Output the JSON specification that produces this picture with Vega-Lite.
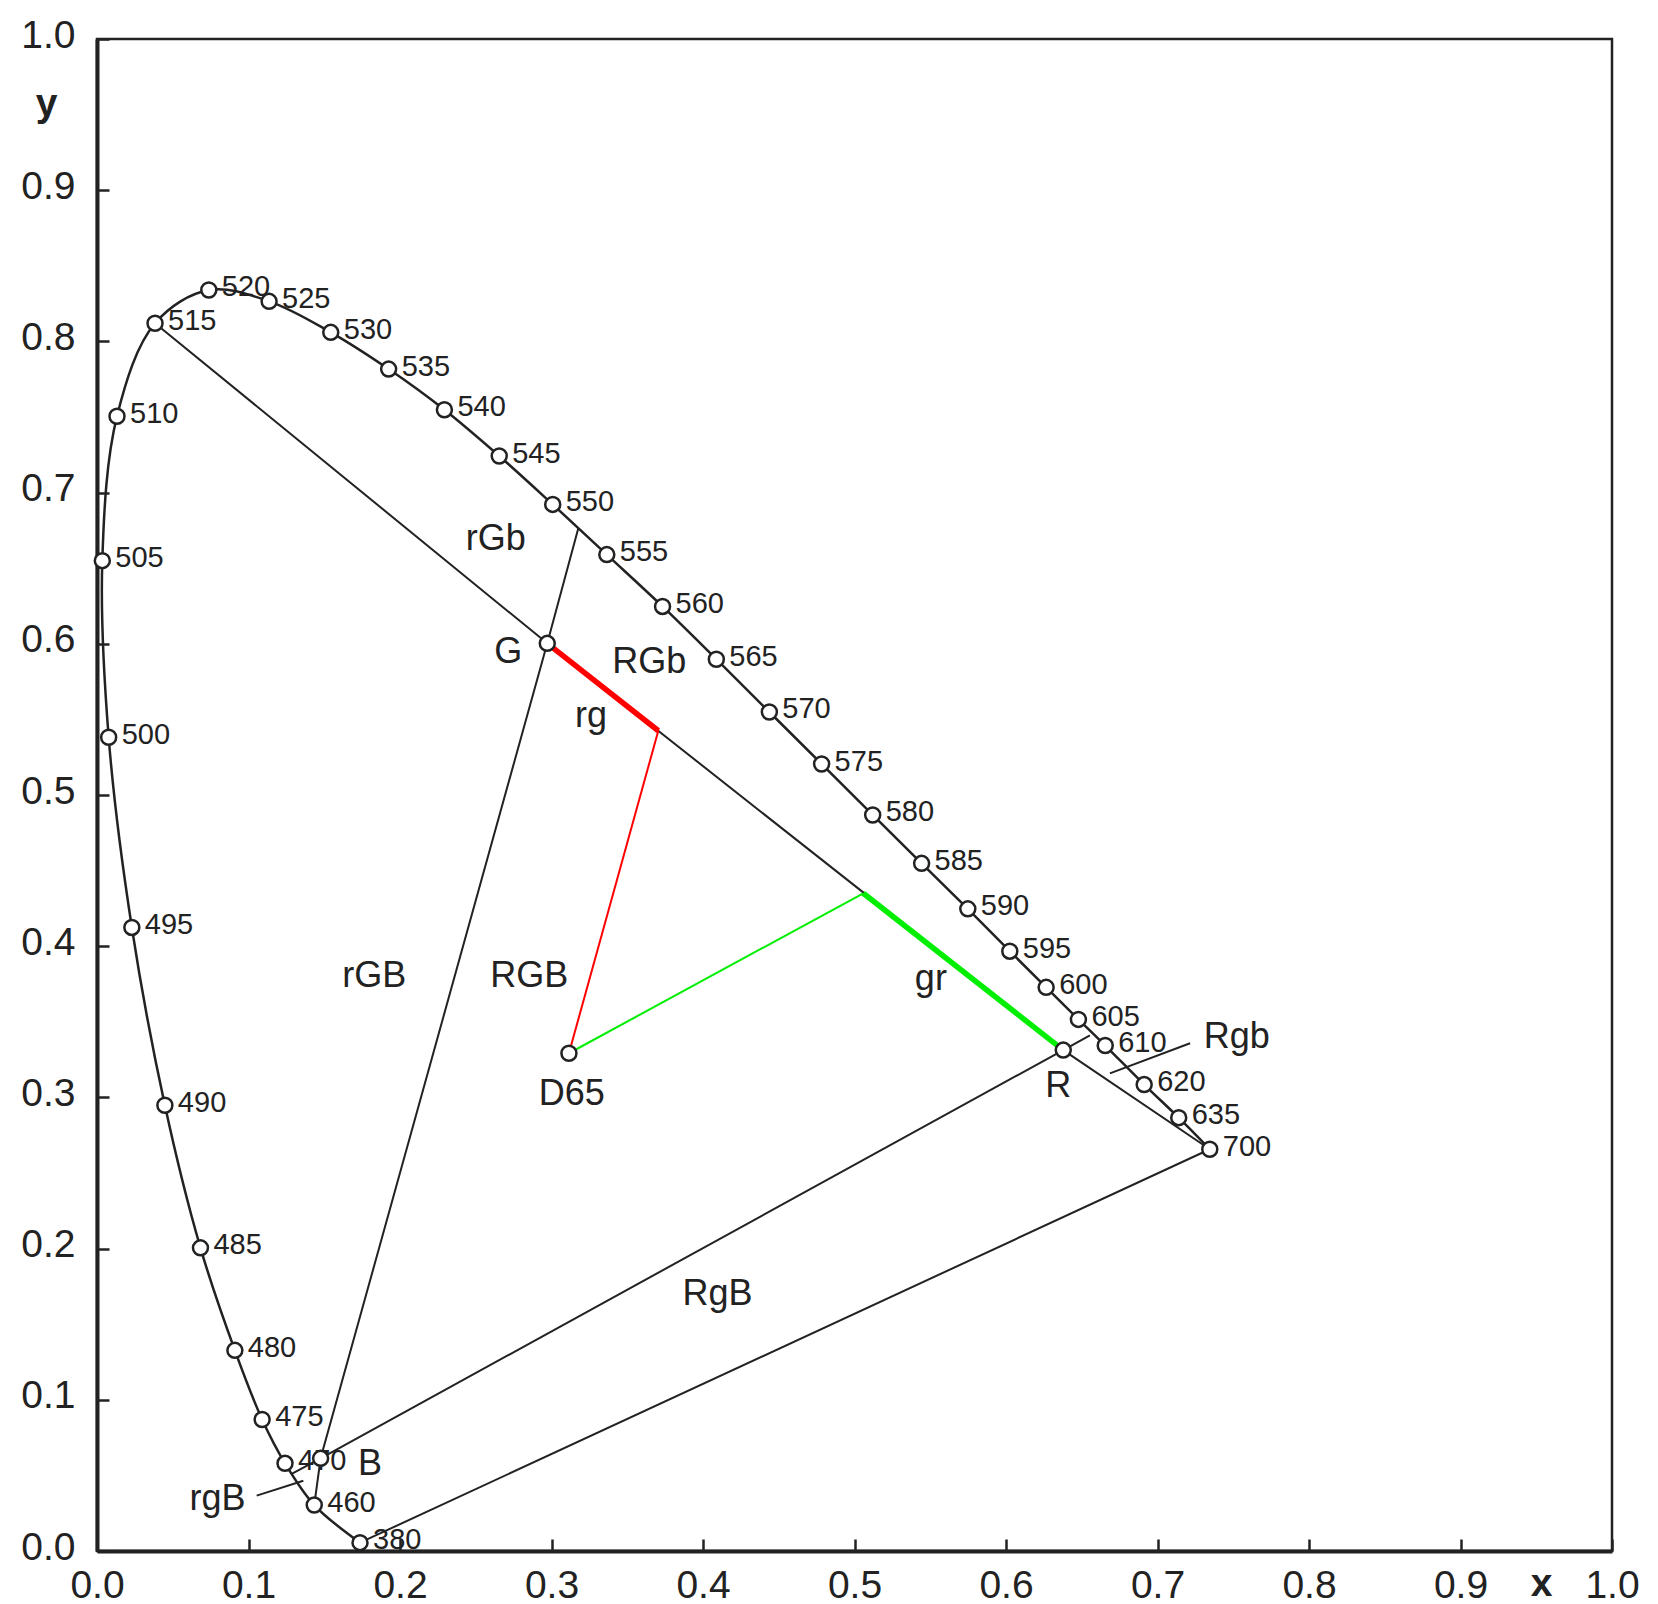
{
  "$schema": "https://vega.github.io/schema/vega-lite/v6.json",
  "width": 1515,
  "height": 1512,
  "autosize": {"type": "none"},
  "padding": {"left": 97, "top": 39, "right": 46, "bottom": 53},
  "background": "white",
  "config": {
    "view": {"stroke": "#222", "strokeWidth": 2.5},
    "axis": {
      "grid": false,
      "domainColor": "#222",
      "domainWidth": 4,
      "tickColor": "#222",
      "tickWidth": 2.5,
      "tickSize": -12,
      "labelFont": "Liberation Sans",
      "labelFontSize": 39,
      "labelColor": "#222",
      "labelFlush": false,
      "labelOverlap": false,
      "titleFont": "Liberation Sans",
      "titleFontSize": 39,
      "titleFontWeight": "bold",
      "titleColor": "#222"
    },
    "text": {"font": "Liberation Sans", "color": "#222"}
  },
  "datasets": {
    "locus": [
      {"wl": 380, "x": 0.1736, "y": 0.0055},
      {"wl": 460, "x": 0.1434, "y": 0.0304},
      {"wl": 470, "x": 0.1241, "y": 0.0580},
      {"wl": 475, "x": 0.1090, "y": 0.0870},
      {"wl": 480, "x": 0.0910, "y": 0.1327},
      {"wl": 485, "x": 0.0683, "y": 0.2005},
      {"wl": 490, "x": 0.0448, "y": 0.2948},
      {"wl": 495, "x": 0.0230, "y": 0.4124},
      {"wl": 500, "x": 0.0077, "y": 0.5382},
      {"wl": 505, "x": 0.0035, "y": 0.6550},
      {"wl": 510, "x": 0.0132, "y": 0.7505},
      {"wl": 515, "x": 0.0383, "y": 0.8120},
      {"wl": 520, "x": 0.0738, "y": 0.8340},
      {"wl": 525, "x": 0.1136, "y": 0.8265},
      {"wl": 530, "x": 0.1543, "y": 0.8060},
      {"wl": 535, "x": 0.1925, "y": 0.7817},
      {"wl": 540, "x": 0.2293, "y": 0.7548},
      {"wl": 545, "x": 0.2655, "y": 0.7242},
      {"wl": 550, "x": 0.3008, "y": 0.6922},
      {"wl": 555, "x": 0.3365, "y": 0.6590},
      {"wl": 560, "x": 0.3733, "y": 0.6247},
      {"wl": 565, "x": 0.4088, "y": 0.5898},
      {"wl": 570, "x": 0.4438, "y": 0.5549},
      {"wl": 575, "x": 0.4783, "y": 0.5205},
      {"wl": 580, "x": 0.5120, "y": 0.4868},
      {"wl": 585, "x": 0.5443, "y": 0.4548},
      {"wl": 590, "x": 0.5748, "y": 0.4247},
      {"wl": 595, "x": 0.6025, "y": 0.3967},
      {"wl": 600, "x": 0.6265, "y": 0.3728},
      {"wl": 605, "x": 0.6478, "y": 0.3516},
      {"wl": 610, "x": 0.6655, "y": 0.3343},
      {"wl": 620, "x": 0.6912, "y": 0.3085},
      {"wl": 635, "x": 0.7140, "y": 0.2866},
      {"wl": 700, "x": 0.7345, "y": 0.2657}
    ],
    "segments": [
      {"kind": "black", "path": "a", "i": 0, "x": 0.0383, "y": 0.8120},
      {"kind": "black", "path": "a", "i": 1, "x": 0.2972, "y": 0.6003},
      {"kind": "black", "path": "a", "i": 2, "x": 0.6378, "y": 0.3313},
      {"kind": "black", "path": "a", "i": 3, "x": 0.7345, "y": 0.2657},
      {"kind": "black", "path": "b", "i": 0, "x": 0.3177, "y": 0.6764},
      {"kind": "black", "path": "b", "i": 1, "x": 0.2972, "y": 0.6003},
      {"kind": "black", "path": "b", "i": 2, "x": 0.1476, "y": 0.0613},
      {"kind": "black", "path": "b", "i": 3, "x": 0.1434, "y": 0.0304},
      {"kind": "black", "path": "c", "i": 0, "x": 0.1285, "y": 0.0510},
      {"kind": "black", "path": "c", "i": 1, "x": 0.1476, "y": 0.0613},
      {"kind": "black", "path": "c", "i": 2, "x": 0.6378, "y": 0.3313},
      {"kind": "black", "path": "c", "i": 3, "x": 0.6554, "y": 0.3410},
      {"kind": "black", "path": "d", "i": 0, "x": 0.1736, "y": 0.0055},
      {"kind": "black", "path": "d", "i": 1, "x": 0.7345, "y": 0.2657},
      {"kind": "black", "path": "e", "i": 0, "x": 0.1054, "y": 0.0366},
      {"kind": "black", "path": "e", "i": 1, "x": 0.1362, "y": 0.0465},
      {"kind": "black", "path": "f", "i": 0, "x": 0.6686, "y": 0.3159},
      {"kind": "black", "path": "f", "i": 1, "x": 0.7215, "y": 0.3358},
      {"kind": "redThick", "path": "g", "i": 0, "x": 0.2972, "y": 0.6003},
      {"kind": "redThick", "path": "g", "i": 1, "x": 0.3705, "y": 0.5425},
      {"kind": "redThin", "path": "h", "i": 0, "x": 0.3705, "y": 0.5425},
      {"kind": "redThin", "path": "h", "i": 1, "x": 0.3115, "y": 0.3292},
      {"kind": "greenThick", "path": "j", "i": 0, "x": 0.6378, "y": 0.3313},
      {"kind": "greenThick", "path": "j", "i": 1, "x": 0.5058, "y": 0.4350},
      {"kind": "greenThin", "path": "k", "i": 0, "x": 0.5058, "y": 0.4350},
      {"kind": "greenThin", "path": "k", "i": 1, "x": 0.3115, "y": 0.3292}
    ],
    "primaries": [
      {"name": "G", "x": 0.2972, "y": 0.6003},
      {"name": "R", "x": 0.6378, "y": 0.3313},
      {"name": "B", "x": 0.1476, "y": 0.0613},
      {"name": "D65", "x": 0.3115, "y": 0.3292}
    ],
    "labels": [
      {"text": "rGb", "x": 0.2632, "y": 0.662},
      {"text": "G", "x": 0.2715, "y": 0.5871},
      {"text": "RGb", "x": 0.3645, "y": 0.5805},
      {"text": "rg", "x": 0.326, "y": 0.5452},
      {"text": "RGB", "x": 0.2853, "y": 0.3732},
      {"text": "rGB", "x": 0.183, "y": 0.3732},
      {"text": "D65", "x": 0.3133, "y": 0.295},
      {"text": "gr", "x": 0.5504, "y": 0.371},
      {"text": "RgB", "x": 0.4096, "y": 0.1627},
      {"text": "Rgb", "x": 0.7523, "y": 0.3325},
      {"text": "R", "x": 0.6345, "y": 0.3005},
      {"text": "B", "x": 0.1802, "y": 0.0503},
      {"text": "rgB", "x": 0.0795, "y": 0.0271}
    ]
  },
  "encoding": {
    "x": {
      "field": "x", "type": "quantitative",
      "scale": {"domain": [0, 1], "nice": false, "zero": false},
      "axis": {
        "values": [0, 0.1, 0.2, 0.3, 0.4, 0.5, 0.6, 0.7, 0.8, 0.9, 1.0],
        "format": ".1f",
        "labelPadding": 58,
        "labelBaseline": "alphabetic",
        "title": "x",
        "titleX": 1444,
        "titleY": 44,
        "titleAlign": "center",
        "titleBaseline": "alphabetic"
      }
    },
    "y": {
      "field": "y", "type": "quantitative",
      "scale": {"domain": [0, 1], "nice": false, "zero": false},
      "axis": {
        "values": [0, 0.1, 0.2, 0.3, 0.4, 0.5, 0.6, 0.7, 0.8, 0.9, 1.0],
        "format": ".1f",
        "labelPadding": 34,
        "labelBaseline": "alphabetic",
        "labelOffset": 8,
        "title": "y",
        "titleAngle": 0,
        "titleX": -51,
        "titleY": 76,
        "titleAlign": "center",
        "titleBaseline": "alphabetic"
      }
    }
  },
  "layer": [
    {
      "data": {"name": "locus"},
      "mark": {"type": "text", "align": "left", "baseline": "alphabetic", "dx": 13, "dy": 6.5, "fontSize": 29},
      "encoding": {"text": {"field": "wl", "type": "nominal"}}
    },
    {
      "data": {"name": "labels"},
      "mark": {"type": "text", "align": "center", "baseline": "alphabetic", "fontSize": 36},
      "encoding": {"text": {"field": "text", "type": "nominal"}}
    },
    {
      "data": {"name": "segments"},
      "transform": [{"filter": "datum.kind === 'black'"}],
      "mark": {"type": "line", "color": "#222", "strokeWidth": 2},
      "encoding": {
        "detail": {"field": "path", "type": "nominal"},
        "order": {"field": "i", "type": "quantitative"}
      }
    },
    {
      "data": {"name": "locus"},
      "mark": {"type": "line", "color": "#222", "strokeWidth": 2.5, "interpolate": "catmull-rom"},
      "encoding": {"order": {"field": "wl", "type": "quantitative"}}
    },
    {
      "data": {"name": "segments"},
      "transform": [{"filter": "datum.kind === 'redThin'"}],
      "mark": {"type": "line", "color": "#ff0000", "strokeWidth": 2},
      "encoding": {"order": {"field": "i", "type": "quantitative"}}
    },
    {
      "data": {"name": "segments"},
      "transform": [{"filter": "datum.kind === 'greenThin'"}],
      "mark": {"type": "line", "color": "#00ee00", "strokeWidth": 2},
      "encoding": {"order": {"field": "i", "type": "quantitative"}}
    },
    {
      "data": {"name": "segments"},
      "transform": [{"filter": "datum.kind === 'redThick'"}],
      "mark": {"type": "line", "color": "#ff0000", "strokeWidth": 5.5},
      "encoding": {"order": {"field": "i", "type": "quantitative"}}
    },
    {
      "data": {"name": "segments"},
      "transform": [{"filter": "datum.kind === 'greenThick'"}],
      "mark": {"type": "line", "color": "#00ee00", "strokeWidth": 5.5},
      "encoding": {"order": {"field": "i", "type": "quantitative"}}
    },
    {
      "data": {"name": "locus"},
      "mark": {"type": "point", "shape": "circle", "filled": false, "fill": "white", "fillOpacity": 1, "stroke": "#222", "strokeWidth": 2.5, "size": 225, "opacity": 1}
    },
    {
      "data": {"name": "primaries"},
      "mark": {"type": "point", "shape": "circle", "filled": false, "fill": "white", "fillOpacity": 1, "stroke": "#222", "strokeWidth": 2.5, "size": 225, "opacity": 1}
    }
  ]
}
